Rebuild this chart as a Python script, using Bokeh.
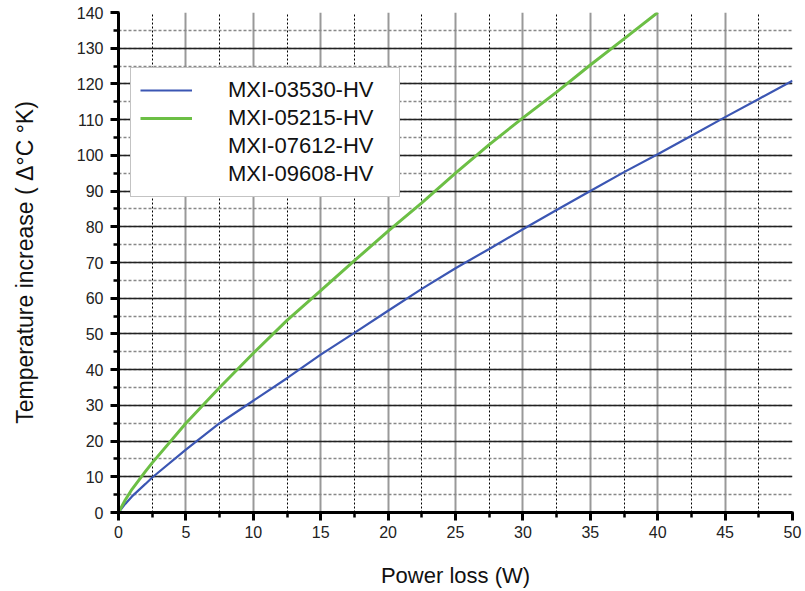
from bokeh.plotting import figure
from bokeh.models import Range1d, SingleIntervalTicker, Legend, LegendItem, ColumnDataSource
from bokeh.embed import file_html
from bokeh.resources import INLINE

# ---- data ----
series_names = ["MXI-03530-HV", "MXI-05215-HV", "MXI-07612-HV", "MXI-09608-HV"]

power_03530 = [0, 0.5, 1, 2, 2.5, 5, 7.5, 10, 12.5, 15, 17.5, 20, 22.5, 25,
               27.5, 30, 32.5, 35, 37.5, 40, 42.5, 45, 47.5, 50]
temp_03530 = [0, 2.4, 4.5, 8.0, 9.8, 17.6, 25.0, 31.3, 37.6, 44.2, 50.3, 56.5,
              62.6, 68.4, 73.8, 79.3, 84.7, 90.0, 95.3, 100.3, 105.5, 110.7,
              115.8, 120.9]

power_05215 = [0, 0.5, 1, 2, 2.5, 5, 7.5, 10, 12.5, 15, 17.5, 20, 22.5, 25,
               27.5, 30, 32.5, 35, 37.5, 40]
temp_05215 = [0, 3.5, 6.5, 11.5, 13.9, 25.0, 35.0, 44.6, 53.8, 62.1, 70.5,
              78.8, 86.7, 95.0, 103.0, 110.5, 117.7, 125.3, 132.6, 140.0]

# series listed in the legend but with no visible curve
power_07612 = []
temp_07612 = []
power_09608 = []
temp_09608 = []

x_title = "Power loss (W)"
y_title = "Temperature increase ( \u0394\u00b0C \u00b0K)"

FONT = "Liberation Sans"

p = figure(width=802, height=590, output_backend="svg", toolbar_location=None,
           x_range=Range1d(0, 50), y_range=Range1d(0, 140),
           min_border_left=118, min_border_right=10, min_border_top=12,
           min_border_bottom=78)
p.outline_line_color = None
p.background_fill_color = "white"
p.border_fill_color = "white"

# axes
p.xaxis.ticker = SingleIntervalTicker(interval=5, num_minor_ticks=2)
p.yaxis.ticker = SingleIntervalTicker(interval=10, num_minor_ticks=2)
for ax in (p.xaxis, p.yaxis):
    ax.axis_line_width = 3
    ax.axis_line_color = "black"
    ax.major_tick_line_width = 3
    ax.major_tick_line_color = "black"
    ax.minor_tick_line_width = 2.5
    ax.minor_tick_line_color = "black"
    ax.major_tick_out = 8
    ax.major_tick_in = 0
    ax.minor_tick_out = 5
    ax.minor_tick_in = 1
    ax.major_label_text_font = FONT
    ax.major_label_text_font_size = "16px"
    ax.major_label_text_color = "#222222"
    ax.axis_label_text_font = FONT
    ax.axis_label_text_font_style = "normal"
    ax.axis_label_text_color = "#111111"
p.xaxis.axis_label_text_font_size = "22px"
p.yaxis.axis_label_text_font_size = "23px"
p.xaxis.major_label_standoff = 5
p.yaxis.major_label_standoff = 7
p.xaxis.axis_label = x_title
p.yaxis.axis_label = y_title
p.xaxis.axis_label_standoff = 22
p.yaxis.axis_label_standoff = 36

# grids
p.xgrid.grid_line_color = "#999999"
p.xgrid.grid_line_width = 2
p.xgrid.minor_grid_line_color = "black"
p.xgrid.minor_grid_line_dash = "2 2"
p.xgrid.minor_grid_line_width = 1

p.ygrid.grid_line_color = "#222222"
p.ygrid.grid_line_width = 1.3
p.ygrid.minor_grid_line_color = "#888888"
p.ygrid.minor_grid_line_dash = "3 2"
p.ygrid.minor_grid_line_width = 1.5

# curves
r1 = p.line(power_03530, temp_03530, line_color="#3b56b3", line_width=2.2)
r2 = p.line(power_05215, temp_05215, line_color="#6cbf45", line_width=3)
r3 = p.line(x="x", y="y", source=ColumnDataSource(dict(x=power_07612, y=temp_07612)),
            line_alpha=0, line_width=2)
r4 = p.line(x="x", y="y", source=ColumnDataSource(dict(x=power_09608, y=temp_09608)),
            line_alpha=0, line_width=2)

legend = Legend(items=[LegendItem(label=n, renderers=[r])
                       for n, r in zip(series_names, [r1, r2, r3, r4])],
                location=(12, 315))
legend.label_text_font = FONT
legend.label_text_font_size = "22px"
legend.label_text_color = "#111111"
legend.glyph_width = 52
legend.glyph_height = 24
legend.label_height = 24
legend.spacing = 2
legend.padding = 9
legend.label_standoff = 36
legend.label_width = 162
legend.border_line_color = "#888888"
legend.border_line_width = 1.5
legend.background_fill_color = "white"
legend.background_fill_alpha = 1
p.add_layout(legend, "center")

open("out.html", "w").write(file_html(p, INLINE))
